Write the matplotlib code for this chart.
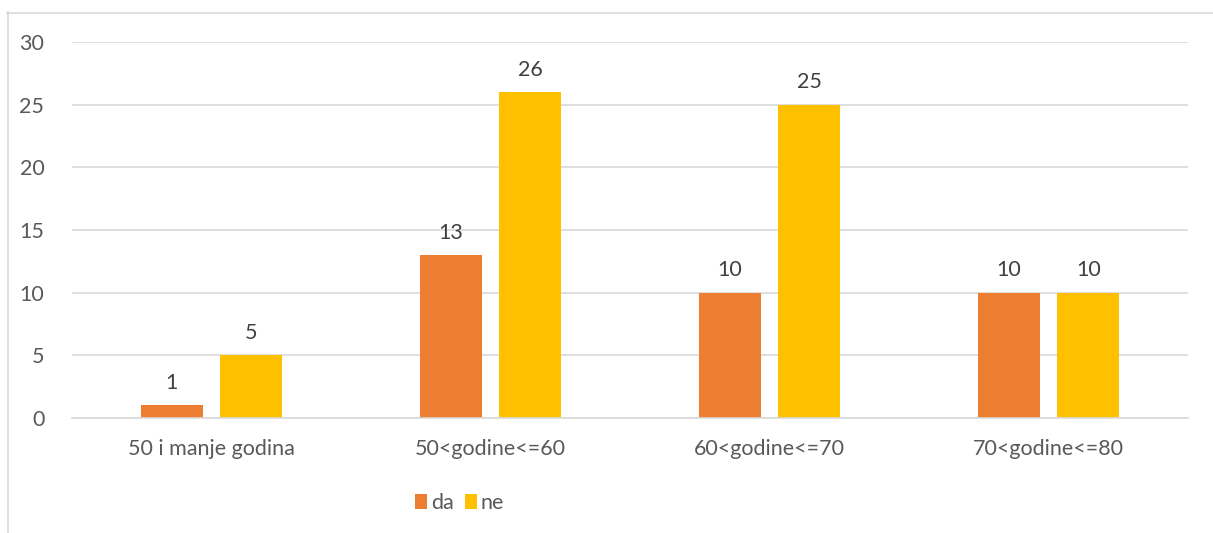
import matplotlib.pyplot as plt
import numpy as np
from matplotlib.lines import Line2D

categories = ['50 i manje godina', '50<godine<=60', '60<godine<=70', '70<godine<=80']
da = [1, 13, 10, 10]
ne = [5, 26, 25, 10]

plt.rcParams['font.family'] = ['Lato', 'DejaVu Sans']
text_col = '#595959'
grid_col = '#D9D9D9'

fig = plt.figure(figsize=(12.13, 5.33), dpi=100)
ax = fig.add_axes([0.0594, 0.2158, 0.92, 0.7054])

x = np.arange(len(categories))
w = 0.224
off = 0.1423
b1 = ax.bar(x - off, da, w, color='#ED7D31', label='da')
b2 = ax.bar(x + off, ne, w, color='#FFC000', label='ne')

for bars, vals in ((b1, da), (b2, ne)):
    for b, v in zip(bars, vals):
        ax.annotate(str(v), (b.get_x() + b.get_width() / 2, v),
                    xytext=(0, 9), textcoords='offset points',
                    ha='center', va='bottom', fontsize=15.5, color='#404040')

ax.set_xlim(-0.5, 3.5)
ax.set_ylim(0, 30)
ax.set_yticks(range(0, 31, 5))
ax.set_xticks(x)
ax.set_xticklabels(categories)
ax.tick_params(length=0, labelsize=15.5, colors=text_col)
ax.tick_params(axis='y', pad=20)
ax.tick_params(axis='x', pad=15)
ax.grid(axis='y', color=grid_col, linewidth=1.2)
ax.set_axisbelow(True)
for s in ['top', 'right', 'left']:
    ax.spines[s].set_visible(False)
ax.spines['bottom'].set_color(grid_col)
ax.spines['bottom'].set_linewidth(1.2)

leg = fig.legend(loc='center', bbox_to_anchor=(0.379, 0.056), ncol=2, frameon=False,
                 fontsize=15.5, handlelength=0.55, handleheight=0.7, handletextpad=0.2,
                 columnspacing=0.5)
for t in leg.get_texts():
    t.set_color(text_col)

# chart border (partially visible)
fig.add_artist(Line2D([7 / 1213, 1], [1 - 12.5 / 533] * 2, color=grid_col, lw=1.2))
fig.add_artist(Line2D([7.5 / 1213] * 2, [0, 1 - 12 / 533], color=grid_col, lw=1.2))

fig.savefig('out.png', dpi=100)
